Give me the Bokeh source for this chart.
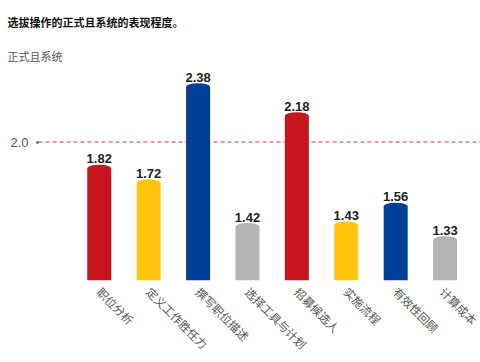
import math
from bokeh.plotting import figure
from bokeh.models import Span, FixedTicker, Range1d, Title
from bokeh.core.properties import value
from bokeh.embed import file_html
from bokeh.resources import INLINE

title_text = "选拔操作的正式且系统的表现程度。"
y_title = "正式且系统"
categories = ["职位分析", "定义工作胜任力", "撰写职位描述", "选择工具与计划",
              "招募候选人", "实施流程", "有效性回顾", "计算成本"]
scores = [1.82, 1.72, 2.38, 1.42, 2.18, 1.43, 1.56, 1.33]
bar_colors = ["#C8141E", "#FFC40C", "#003F98", "#B3B3B3",
              "#C8141E", "#FFC40C", "#003F98", "#B3B3B3"]
reference_level = 2.0
baseline = 1.05

xs = list(range(len(categories)))
labels = [f"{v:.2f}" for v in scores]

p = figure(width=480, height=362, output_backend="svg", toolbar_location=None,
           x_range=Range1d(-1.23, 7.717), y_range=Range1d(baseline, 2.539),
           min_border_left=38, min_border_right=0, min_border_bottom=82,
           min_border_top=62)
p.outline_line_color = None
p.grid.visible = False
p.background_fill_color = "white"

p.title.text = title_text
p.title.align = "left"
p.title.vertical_align = "top"
p.title.offset = -31
p.title.standoff = 27
p.title.text_font = "Noto Sans CJK SC"
p.title.text_font_size = "11px"
p.title.text_font_style = "bold"
p.title.text_color = "#111111"

sub = Title(text=y_title, align="left", offset=-31, standoff=0, text_font="Noto Sans CJK SC",
            text_font_size="11px", text_font_style="normal", text_color="#555555")
p.add_layout(sub, "above")

p.add_layout(Span(location=reference_level, dimension="width", line_color="#D8324E",
                  line_dash="4 3", line_width=1, level="underlay"))

p.vbar(x=xs, top=scores, bottom=baseline, width=0.486, color=bar_colors, line_color=None)
p.ellipse(x=xs, y=scores, width=24, height=7, width_units="screen", height_units="screen",
          fill_color=bar_colors, line_color=None)

p.text(x=xs, y=scores, text=labels, text_align="center", text_baseline="bottom",
       y_offset=-5, text_font=value("Liberation Sans"), text_font_size="13px",
       text_font_style="bold", text_color="#222222")

p.xaxis.ticker = FixedTicker(ticks=xs)
p.xaxis.major_label_overrides = {i: c for i, c in zip(xs, categories)}
p.xaxis.major_label_orientation = -math.pi / 4
p.xaxis.axis_line_color = None
p.xaxis.major_tick_line_color = None
p.xaxis.minor_tick_line_color = None
p.xaxis.major_label_text_font = "Noto Sans CJK SC"
p.xaxis.major_label_text_font_size = "11.5px"
p.xaxis.major_label_text_color = "#555555"
p.xaxis.major_label_standoff = 3

p.yaxis.ticker = FixedTicker(ticks=[reference_level])
p.yaxis.major_label_overrides = {reference_level: "2.0"}
p.yaxis.axis_line_color = None
p.yaxis.minor_tick_line_color = None
p.yaxis.major_tick_line_color = "#222222"
p.yaxis.major_tick_line_width = 2
p.yaxis.major_tick_out = 2
p.yaxis.major_tick_in = 0
p.yaxis.major_label_standoff = 8
p.yaxis.major_label_text_font = "Liberation Sans"
p.yaxis.major_label_text_font_size = "13px"
p.yaxis.major_label_text_color = "#555555"

open("out.html", "w").write(file_html(p, INLINE))
